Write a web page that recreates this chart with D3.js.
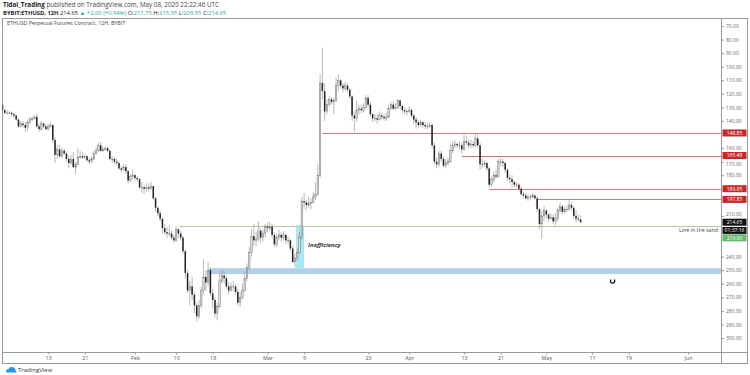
<!DOCTYPE html>
<html>
<head>
<meta charset="utf-8">
<script src="https://cdn.jsdelivr.net/npm/d3@7"></script>
<style>
  body { margin: 0; background: #fff; }
  svg { display: block; font-family: "Open Sans", "Noto Sans", sans-serif; }
</style>
</head>
<body>
<svg id="chart" width="750" height="375"></svg>
<script>
// ETHUSD 12H candles, Jan 2 - May 8 2020 (two candles per day, open = previous close)
const firstOpen = 128
const closes = [
  // Jan 2 - 31
  127,128, 132,134, 134,134, 135,136, 139,144, 142,143, 145,141, 139,138, 137,144, 146,142,
  144,146, 144,143, 154,165, 161,166, 162,164, 168,171, 168,174, 172,167, 166,167, 166,169,
  170,168, 164,162, 158,162, 161,160, 162,168, 168,170, 171,175, 176,174, 177,184, 181,180,
  // Feb
  182,183, 189,189, 190,189, 190,188, 197,204, 208,212, 219,222, 223,223, 226,228, 220,223,
  226,236, 252,265, 262,268, 276,284, 276,265, 255,259, 250,267, 272,282, 277,258, 254,256,
  262,265, 262,262, 266,274, 270,265, 256,248, 237,225, 228,227, 221,226, 223,218,
  // Mar
  219,218, 224,231, 226,224, 226,224, 228,228, 234,244, 241,237, 226,199, 200,202, 201,200,
  196,194, 180,112, 118,133, 128,124, 126,125, 114,110, 114,116, 114,117, 122,136, 138,132,
  131,132, 130,123, 128,135, 138,138, 139,136, 137,138, 137,131, 128,131, 130,125, 129,132, 133,133,
  // Apr
  132,136, 139,141, 143,141, 143,144, 144,143, 158,170, 172,164, 168,173, 171,170, 162,158,
  157,158, 158,161, 155,156, 158,157, 158,153, 158,172, 172,171, 175,187, 183,180, 181,170,
  170,171, 176,182, 183,185, 187,187, 190,194, 195,197, 196,196, 195,197, 205,216, 210,206,
  // May 1 - 8
  209,212, 211,214, 212,206, 203,207, 205,205, 202,204, 210,212, 212.65,214.65
]
const highs = [
  130,129, 133,135, 135,135, 137,138, 140,145, 145,145, 148,147, 142,140, 139,145, 148,147,
  145,147, 147,145, 156,171, 168,167, 167,165, 170,175, 172,175, 179,173, 168,168, 168,170,
  172,171, 169,165, 163,163, 163,162, 163,169, 171,172, 173,176, 178,177, 179,186, 185,183,
  184,185, 190,193, 194,192, 192,191, 198,207, 210,214, 223,224, 226,225, 228,230, 229,226,
  228,238, 256,267, 276,272, 282,288, 286,278, 268,265, 262,269, 278,285, 287,278, 260,260,
  264,268, 266,265, 268,276, 277,272, 266,258, 250,240, 232,232, 229,230, 229,226,
  222,221, 226,233, 233,228, 229,228, 230,231, 236,245, 248,243, 238,228, 205,206, 204,205,
  201,198, 195,182, 124,140, 135,130, 128,135, 126,118, 116,119, 118,119, 124,140, 148,141,
  135,134, 134,131, 130,137, 141,140, 142,140, 139,140, 140,138, 132,132, 132,131, 131,134, 135,136,
  134,138, 142,146, 145,144, 145,146, 146,145, 160,172, 175,174, 170,174, 175,173, 171,164,
  160,160, 161,164, 162,158, 160,160, 160,159, 160,176, 175,174, 177,189, 188,185, 183,182,
  173,174, 178,184, 186,189, 189,189, 192,195, 197,198, 199,198, 197,198, 207,220, 227,214,
  212,215, 213,216, 217,214, 208,209, 208,207, 206,206, 212,215, 214,215.35
]
const lows = [
  126,126, 127,131, 132,133, 133,134, 135,138, 140,140, 141,139, 137,137, 136,135, 142,140,
  141,142, 142,141, 143,152, 158,158, 160,160, 163,166, 165,163, 170,160, 162,163, 164,165,
  167,166, 162,159, 156,155, 159,159, 159,161, 166,167, 168,170, 173,172, 172,176, 179,176,
  179,181, 182,185, 187,186, 186,185, 188,196, 203,206, 212,216, 218,217, 221,224, 218,219,
  221,225, 235,250, 258,255, 266,274, 272,262, 242,250, 244,248, 264,270, 274,252, 250,251,
  254,259, 259,258, 260,264, 266,260, 251,245, 233,220, 216,222, 214,219, 220,216,
  215,214, 216,222, 223,220, 222,221, 223,225, 227,232, 238,234, 222,196, 193,198, 196,197,
  192,185, 172,105, 86,112, 124,122, 122,123, 108,106, 109,112, 111,112, 116,121, 133,125,
  128,128, 127,121, 121,126, 134,135, 135,133, 134,135, 134,128, 126,126, 127,124, 124,128, 130,131,
  129,131, 135,137, 139,139, 140,141, 141,141, 142,156, 167,162, 162,166, 168,167, 157,155,
  154,156, 155,156, 150,151, 154,154, 155,149, 150,156, 168,169, 170,174, 181,177, 176,168,
  167,168, 170,175, 180,180, 184,185, 186,188, 192,193, 194,194, 193,194, 196,204, 206,203,
  205,208, 208,209, 208,204, 200,202, 203,202, 198,200, 203,206, 209,209.55
]

// drawn levels
const resistLevels = [148.85, 165.48, 189.95, 197.85]
const resistStarts = ["2020-03-13T00:00Z", "2020-04-12T12:00Z", "2020-04-18T12:00Z", "2020-04-29T00:00Z"]
const sandLevel = 217.5, sandStart = "2020-02-10T18:00Z"
const bandRange = [248.5, 252.9], bandStart = "2020-02-17T06:00Z"
const gapRange = [217, 249], gapDates = ["2020-03-07T06:00Z", "2020-03-09T00:00Z"]
const markPoint = { date: "2020-05-15T12:00Z", value: 254 }

// axes
const priceTicks = [70, 80, 90, 100, 110, 120, 130, 140, 160, 170, 180, 210, 240, 250, 260, 270, 280, 290, 300]
const timeTicks = ["2020-01-13", "2020-01-21", "2020-02-01", "2020-02-10", "2020-02-18", "2020-03-01", "2020-03-09",
  "2020-03-23", "2020-04-01", "2020-04-13", "2020-04-21", "2020-05-01", "2020-05-11", "2020-05-19", "2020-06-01"]
const timeLabels = ["13", "21", "Feb", "10", "18", "Mar", "9", "23", "Apr", "13", "21", "May", "11", "19", "Jun"]

const pane = { left: 2.5, top: 18.5, right: 721.5, bottom: 352.5, outerRight: 747.5, outerBottom: 363.5 }

const svg = d3.select('#chart')

const x = d3.scaleTime()
  .domain([new Date("2020-02-01T00:00Z"), new Date("2020-06-01T00:00Z")])
  .range([135, 688])
const y = d3.scaleLinear()
  .domain([70, 300])
  .range([26, 338])  // inverted chart: low prices on top

// build candles
const t0 = new Date("2020-01-02T00:00Z").getTime()
const candles = closes.map((c, i) => {
  const o = i === 0 ? firstOpen : closes[i - 1]
  return {
    date: new Date(t0 + i * 12 * 3600 * 1000),
    o: o, c: c,
    h: Math.max(highs[i], o, c),
    l: Math.min(lows[i], o, c)
  }
})

svg.append('clipPath').attr('id', 'paneClip')
  .append('rect')
  .attr('x', pane.left).attr('y', pane.top)
  .attr('width', pane.right - pane.left).attr('height', pane.bottom - pane.top)

// header
const head1 = svg.append('text').attr('x', 3).attr('y', 6.5).attr('font-size', 6.3).attr('fill', '#444')
head1.append('tspan').attr('font-weight', 'bold').attr('fill', '#222').text('Tidal_Trading')
head1.append('tspan').text(' published on TradingView.com, May 08, 2020 22:22:46 UTC')

const head2 = svg.append('text').attr('x', 3).attr('y', 14.5).attr('font-size', 5.8).attr('fill', '#222')
head2.append('tspan').attr('font-weight', 'bold').text('BYBIT:ETHUSD, 12H ')
head2.append('tspan').text('214.65 ')
head2.append('tspan').attr('fill', '#26a69a').text('▲ ')
head2.append('tspan').attr('fill', '#26a69a').text('+2.00 (+0.94%) ')
const ohlc = [["O:", "211.75"], ["H:", "215.35"], ["L:", "209.55"], ["C:", "214.65"]]
ohlc.forEach(p => {
  head2.append('tspan').text(p[0])
  head2.append('tspan').attr('fill', '#26a69a').text(p[1] + ' ')
})

// frame
const frame = svg.append('g').attr('fill', 'none').attr('stroke', '#9a9a9a').attr('stroke-width', 1)
frame.append('rect').attr('x', pane.left).attr('y', pane.top)
  .attr('width', pane.outerRight - pane.left).attr('height', pane.outerBottom - pane.top)
frame.append('line').attr('x1', pane.right).attr('x2', pane.right).attr('y1', pane.top).attr('y2', pane.outerBottom)
frame.append('line').attr('x1', pane.left).attr('x2', pane.outerRight).attr('y1', pane.bottom).attr('y2', pane.bottom)

svg.append('text').attr('x', 7).attr('y', 25).attr('font-size', 5.3).attr('fill', '#444')
  .text('ETHUSD Perpetual Futures Contract, 12H, BYBIT')

const plot = svg.append('g').attr('clip-path', 'url(#paneClip)')

// blue zone and inefficiency box
plot.append('rect')
  .attr('x', x(new Date(bandStart))).attr('y', y(bandRange[0]))
  .attr('width', pane.right - x(new Date(bandStart)))
  .attr('height', y(bandRange[1]) - y(bandRange[0]))
  .attr('fill', '#b4cfea')
plot.append('rect')
  .attr('x', x(new Date(gapDates[0]))).attr('y', y(gapRange[0]))
  .attr('width', x(new Date(gapDates[1])) - x(new Date(gapDates[0])))
  .attr('height', y(gapRange[1]) - y(gapRange[0]))
  .attr('fill', '#a8e8f4')

// line in the sand
plot.append('line')
  .attr('x1', x(new Date(sandStart))).attr('x2', pane.right)
  .attr('y1', Math.round(y(sandLevel)) + 0.5).attr('y2', Math.round(y(sandLevel)) + 0.5)
  .attr('stroke', '#b5c99a').attr('stroke-width', 1)

// resistance lines
resistLevels.forEach((v, i) => {
  const yy = Math.round(y(v)) + 0.5
  plot.append('line')
    .attr('x1', x(new Date(resistStarts[i]))).attr('x2', pane.right)
    .attr('y1', yy).attr('y2', yy)
    .attr('stroke', '#c97c7c').attr('stroke-width', 1)
})

// candles
const bodyW = 1.5
const cg = plot.append('g')
cg.selectAll('line.wick').data(candles).enter().append('line')
  .attr('class', 'wick')
  .attr('x1', d => x(d.date)).attr('x2', d => x(d.date))
  .attr('y1', d => y(d.l)).attr('y2', d => y(d.h))
  .attr('stroke', '#8a8a8a').attr('stroke-width', 0.6)
cg.selectAll('rect.body').data(candles).enter().append('rect')
  .attr('class', 'body')
  .attr('x', d => x(d.date) - bodyW / 2)
  .attr('y', d => y(Math.min(d.o, d.c)))
  .attr('width', bodyW)
  .attr('height', d => Math.max(0.6, Math.abs(y(d.c) - y(d.o))))
  .attr('fill', d => d.c >= d.o ? '#222' : '#d8d8d8')
  .attr('stroke', d => d.c >= d.o ? 'none' : '#666')
  .attr('stroke-width', 0.4)

// annotations
svg.append('text')
  .attr('x', x(new Date(gapDates[1])) + 4).attr('y', 247)
  .attr('font-size', 6).attr('font-weight', 'bold').attr('font-style', 'italic').attr('fill', '#333')
  .text('Inefficiency')
svg.append('text')
  .attr('x', 718).attr('y', 232).attr('text-anchor', 'end')
  .attr('font-size', 5.3).attr('fill', '#444')
  .text('Line in the sand')
const mx = x(new Date(markPoint.date)), my = y(markPoint.value)
svg.append('path')
  .attr('d', `M${mx - 2},${my + 4} L${mx - 2},${my + 6.5} Q${mx},${my + 8.5} ${mx + 2},${my + 6.5} L${mx + 2},${my + 4}`)
  .attr('fill', 'none').attr('stroke', '#111').attr('stroke-width', 1.3)

// price axis
const yAxis = d3.axisRight(y)
  .tickValues(priceTicks)
  .tickFormat(d3.format('.2f'))
  .tickSize(2.5)
  .tickPadding(2)
const yg = svg.append('g').attr('transform', `translate(${pane.right},0)`).call(yAxis)
yg.select('.domain').remove()
yg.selectAll('line').attr('stroke', '#999')
yg.selectAll('text').attr('font-size', 5).attr('fill', '#666').attr('font-family', '"Open Sans", sans-serif')
// labels that sit next to a price box are nudged clear of it
yg.selectAll('text').filter(d => d === 170).attr('dy', '0.75em')
yg.selectAll('text').filter(d => d === 210).attr('dy', '-0.05em')

// price boxes
const boxes = [
  { v: 148.85, text: '148.85', fill: '#c62828' },
  { v: 165.48, text: '165.48', fill: '#c62828' },
  { v: 189.95, text: '189.95', fill: '#c62828' },
  { v: 197.85, text: '197.85', fill: '#c62828' },
  { v: 214.65, text: '214.65', fill: '#111' }
]
const boxG = svg.append('g')
function priceBox(yc, text, fill) {
  boxG.append('rect').attr('x', pane.right + 1).attr('y', yc - 3.5)
    .attr('width', 24).attr('height', 7).attr('fill', fill)
  boxG.append('text').attr('x', pane.right + 13).attr('y', yc + 1.8)
    .attr('text-anchor', 'middle').attr('font-size', 5).attr('fill', '#fff').text(text)
}
boxes.forEach(b => priceBox(y(b.v), b.text, b.fill))
priceBox(y(214.65) + 8.2, '01:37:16', '#111')
priceBox(y(214.65) + 15.6, '216.90', '#66bb6a')

// time axis
const xAxis = d3.axisBottom(x)
  .tickValues(timeTicks.map(s => new Date(s + 'T00:00Z')))
  .tickFormat((d, i) => timeLabels[i])
  .tickSize(2)
  .tickPadding(2)
const xg = svg.append('g').attr('transform', `translate(0,${pane.bottom})`).call(xAxis)
xg.select('.domain').remove()
xg.selectAll('line').attr('stroke', '#999')
xg.selectAll('text').attr('font-size', 5.4).attr('fill', '#555').attr('font-family', '"Open Sans", sans-serif')

// footer logo
const logo = svg.append('g').attr('transform', 'translate(6,369)')
logo.append('path')
  .attr('d', 'M0,2.5 Q0,0 2.5,0 Q3.5,-2.5 6.5,-1.8 Q9.5,-1.5 9.5,1.5 Q11,2 10.5,3.5 L0.5,3.5 Z')
  .attr('fill', '#2196f3')
svg.append('text').attr('x', 18).attr('y', 371.5).attr('font-size', 6).attr('fill', '#333').text('TradingView')
</script>
</body>
</html>
